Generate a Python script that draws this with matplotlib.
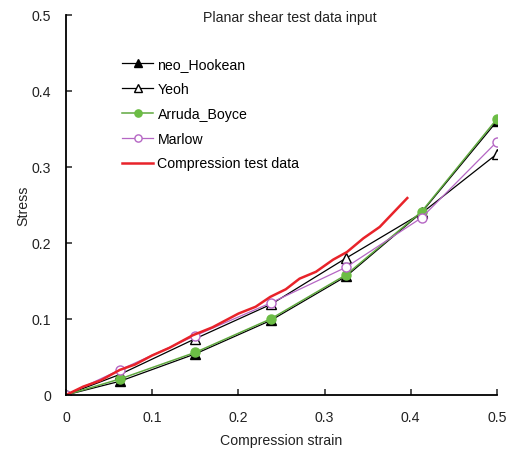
import matplotlib
matplotlib.use("Agg")
import matplotlib.pyplot as plt

plt.rcParams['font.family'] = ['Liberation Sans', 'DejaVu Sans']

strain = [0, 0.0625, 0.15, 0.2375, 0.325, 0.4125, 0.5]
neo_hookean = [0, 0.018, 0.054, 0.098, 0.156, 0.240, 0.360]
yeoh = [0, 0.027, 0.074, 0.119, 0.180, 0.239, 0.317]
arruda_boyce = [0, 0.021, 0.056, 0.100, 0.158, 0.241, 0.363]
marlow = [0, 0.033, 0.078, 0.121, 0.168, 0.233, 0.333]

test_strain = [0, 0.02, 0.04, 0.0625, 0.08, 0.1, 0.12, 0.147, 0.17, 0.2, 0.22,
               0.237, 0.255, 0.271, 0.29, 0.31, 0.326, 0.345, 0.364, 0.38, 0.396]
test_stress = [0, 0.011, 0.019, 0.033, 0.040, 0.052, 0.062, 0.0785, 0.089, 0.107, 0.116,
               0.129, 0.139, 0.153, 0.162, 0.178, 0.188, 0.206, 0.221, 0.240, 0.259]

ticks = [0, 0.1, 0.2, 0.3, 0.4, 0.5]
tick_labels = ["0", "0.1", "0.2", "0.3", "0.4", "0.5"]

fs = 10.2
fig = plt.figure(figsize=(5.16, 4.52), dpi=100)
ax = fig.add_axes([0.128, 0.124, 0.835, 0.841])

ax.plot(strain, neo_hookean, color='black', lw=0.9, marker='^', ms=7,
        mfc='black', mec='black', label='neo_Hookean')
ax.plot(strain, yeoh, color='black', lw=0.9, marker='^', ms=7,
        mfc='white', mec='black', label='Yeoh')
ax.plot(strain, arruda_boyce, color='#5fa83f', lw=1.1, marker='o', ms=6.5,
        mfc='#6cbd45', mec='#6cbd45', label='Arruda_Boyce')
ax.plot(strain, marlow, color='#b566c4', lw=0.9, marker='o', ms=6.5,
        mfc='white', mec='#b566c4', label='Marlow')
ax.plot(test_strain, test_stress, color='#e8232a', lw=1.8,
        label='Compression test data')

ax.set_xlim(0, 0.5)
ax.set_ylim(0, 0.5)
ax.set_xticks(ticks)
ax.set_xticklabels(tick_labels)
ax.set_yticks(ticks)
ax.set_yticklabels(tick_labels)
ax.tick_params(direction='in', length=4, width=1.1, labelsize=fs, colors='#222222')
ax.tick_params(axis='x', pad=11)
ax.tick_params(axis='y', pad=11)
for s in ['top', 'right']:
    ax.spines[s].set_visible(False)
for s in ['left', 'bottom']:
    ax.spines[s].set_linewidth(1.3)
    ax.spines[s].set_clip_on(False)

ax.set_xlabel("Compression strain", fontsize=fs, color='#222222', labelpad=6)
ax.set_ylabel("Stress", fontsize=fs, color='#222222', labelpad=0.5)

ax.text(0.52, 0.995, "Planar shear test data input", transform=ax.transAxes,
        ha='center', va='center', fontsize=fs, color='#222222')

ax.legend(loc='upper left', bbox_to_anchor=(0.13, 0.888), frameon=False,
          fontsize=fs, handlelength=2.2, handletextpad=0.3, labelspacing=0.76,
          borderpad=0, borderaxespad=0, markerscale=0.8)

plt.savefig("out.png", dpi=100)
